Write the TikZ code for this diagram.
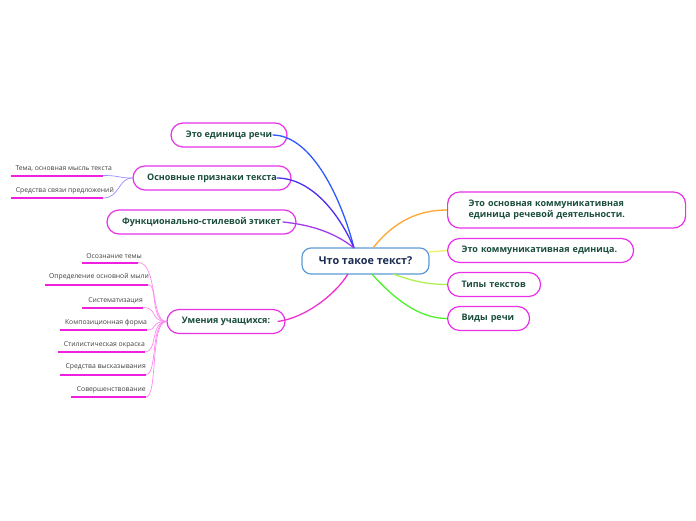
\documentclass[tikz,border=0pt]{standalone}
\usepackage{fontspec}
\setmainfont{Open Sans}
\definecolor{boxc}{HTML}{E830E8}
\definecolor{txtc}{HTML}{1B4D3E}
\definecolor{cenb}{HTML}{5B9BD5}
\definecolor{cent}{HTML}{1A2B50}
\definecolor{cblue}{HTML}{2E5BFF}
\definecolor{cindigo}{HTML}{4A2EF0}
\definecolor{cpurple}{HTML}{A23BF0}
\definecolor{cmag}{HTML}{F030D0}
\definecolor{corange}{HTML}{FFA530}
\definecolor{cyellow}{HTML}{F0F060}
\definecolor{clgreen}{HTML}{B0F050}
\definecolor{cgreen}{HTML}{50F030}
\definecolor{csubp}{HTML}{9A8AFF}
\definecolor{csubm}{HTML}{FF88F0}
\definecolor{culine}{HTML}{F020E0}
\definecolor{subtxt}{HTML}{404040}
\begin{document}
\begin{tikzpicture}[x=1pt,y=-1pt,
  mainbox/.style={draw=boxc, line width=1.2pt, rounded corners=12pt, fill=white,
    font=\fontsize{9}{11.5}\selectfont\bfseries, text=txtc, minimum height=24pt, inner sep=0pt},
  rbox/.style={mainbox, align=left, inner xsep=14pt, inner ysep=0pt},
  cbox/.style={draw=cenb, line width=1.2pt, rounded corners=9pt, fill=white,
    font=\fontsize{10.8}{13}\selectfont\bfseries, text=cent, minimum width=127pt, minimum height=26pt, inner sep=0pt},
  conn/.style={line width=1.3pt},
  subconn/.style={line width=0.7pt},
  sublabel/.style={font=\fontsize{6.8}{8}\selectfont, text=subtxt, inner sep=0pt, anchor=south east},
  uline/.style={draw=culine, line width=2pt}
]
\useasboundingbox (0,0) rectangle (696,520);

% central
\node[cbox] (c) at (365.5,261) {Что такое текст?};

% left main nodes
\node[mainbox, minimum width=116pt] (a) at (229,135) {Это единица речи};
\node[mainbox, minimum width=158pt] (b) at (212,178) {Основные признаки текста};
\node[mainbox, minimum width=189pt] (f) at (201.5,222) {Функционально-стилевой этикет};
\node[mainbox, minimum width=118pt] (u) at (226,321.5) {Умения учащихся:};

% right main nodes
\node[rbox, minimum width=238pt, minimum height=36pt, inner xsep=21pt, text width=196pt, anchor=west] (r1) at (447,210)
  {Это основная коммуникативная\\единица речевой деятельности.};
\node[rbox, minimum width=186pt, text width=158pt, anchor=west] (r2) at (447,250.5) {Это коммуникативная единица.};
\node[rbox, minimum width=93pt, text width=65pt, anchor=west] (r3) at (447,284.5) {Типы текстов};
\node[rbox, minimum width=82pt, text width=54pt, anchor=west] (r4) at (447,318.5) {Виды речи};

% main connectors
\coordinate (ctop) at (354,248);
\coordinate (cbot) at (348,274);
\coordinate (crt) at (373,248);
\coordinate (crb1) at (393,274);
\coordinate (crb2) at (372,274);
\draw[conn, cblue] ([xshift=-15pt]a.east) .. controls (312,135) and (342,200) .. (ctop);
\draw[conn, cindigo] ([xshift=-15pt]b.east) .. controls (312,178) and (340,215) .. (ctop);
\draw[conn, cpurple] ([xshift=-14pt]f.east) .. controls (315,225) and (338,235) .. (ctop);
\draw[conn, cmag] ([xshift=-8pt]u.east) .. controls (305,318) and (335,295) .. (cbot);
\draw[conn, corange] (crt) .. controls (395,220) and (420,210) .. (r1.west);
\draw[conn, cyellow] ([xshift=-1pt]c.east |- 0,252) -- (r2.west);
\draw[conn, clgreen] (crb1) .. controls (415,282) and (430,284.5) .. (r3.west);
\draw[conn, cgreen] (crb2) .. controls (395,300) and (420,318.5) .. (r4.west);

% subtopics of b
\coordinate (pe1) at (103,175.5);
\coordinate (pe2) at (103,198);
\node[sublabel] (p1) at ([xshift=9pt,yshift=4pt]pe1) {Тема, основная мысль текста};
\node[sublabel] (p2) at ([xshift=11pt,yshift=4pt]pe2) {Средства связи предложений};
\draw[uline] (11,175.5) -- (pe1);
\draw[uline] (11,198) -- (pe2);
\draw[subconn, csubp] (b.west) .. controls (118,178) and (120,175.5) .. (pe1);
\draw[subconn, csubp] (b.west) .. controls (118,178) and (120,198) .. (pe2);

% subtopics of u
\coordinate (e1) at (138,262.5);
\coordinate (e2) at (148,284.5);
\coordinate (e3) at (143,307.5);
\coordinate (e4) at (147,330);
\coordinate (e5) at (145,352);
\coordinate (e6) at (146,374.5);
\coordinate (e7) at (146,397);
\node[sublabel] (s1) at ([xshift=4pt,yshift=4pt]e1) {Осознание темы};
\node[sublabel] (s2) at ([xshift=1pt,yshift=4pt]e2) {Определение основной мыли};
\node[sublabel] (s3) at ([xshift=0pt,yshift=4pt]e3) {Систематизация};
\node[sublabel] (s4) at ([xshift=0pt,yshift=4pt]e4) {Композиционная форма};
\node[sublabel] (s5) at ([xshift=0pt,yshift=4pt]e5) {Стилистическая окраска};
\node[sublabel] (s6) at ([xshift=0pt,yshift=4pt]e6) {Средства высказывания};
\node[sublabel] (s7) at ([xshift=0pt,yshift=4pt]e7) {Совершенствование};
\draw[uline] (82,262.5) -- (e1);
\draw[uline] (45,284.5) -- (e2);
\draw[uline] (82,307.5) -- (e3);
\draw[uline] (60,330) -- (e4);
\draw[uline] (58,352) -- (e5);
\draw[uline] (60,374.5) -- (e6);
\draw[uline] (71,397) -- (e7);
\foreach \e in {e1,e2,e3,e4,e5,e6,e7}
  \draw[subconn, csubm] (u.west) .. controls (150,321.5) and (158,0 |- \e) .. (\e);
\end{tikzpicture}
\end{document}
